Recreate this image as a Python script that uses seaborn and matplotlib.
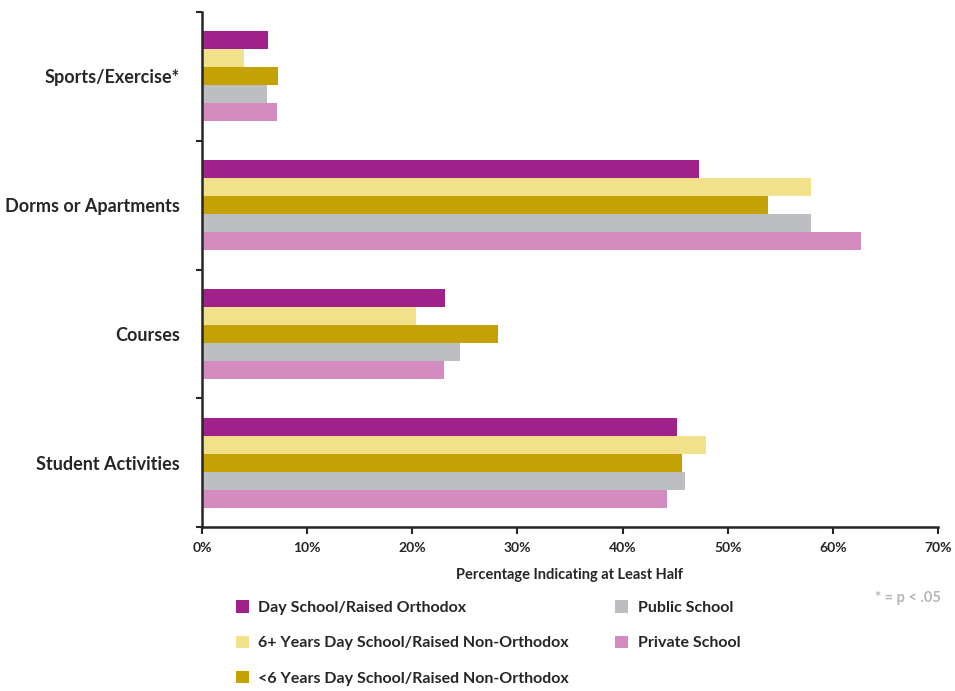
import matplotlib
matplotlib.use('Agg')
import matplotlib.pyplot as plt
from matplotlib.patches import Patch
import seaborn as sns
import pandas as pd

sns.set_style('white')
plt.rcParams['font.family'] = ['Lato', 'DejaVu Sans']

categories = ['Sports/Exercise*', 'Dorms or Apartments', 'Courses', 'Student Activities']
groups = ['Day School/Raised Orthodox',
          '6+ Years Day School/Raised Non-Orthodox',
          '<6 Years Day School/Raised Non-Orthodox',
          'Public School',
          'Private School']
colors = ['#A0218A', '#F0E18A', '#C4A204', '#BDBEC2', '#D48BC0']

day_orthodox = [6.3, 47.3, 23.1, 45.2]
six_plus = [4.0, 57.9, 20.4, 47.9]
under_six = [7.2, 53.8, 28.2, 45.7]
public = [6.2, 57.9, 24.5, 45.9]
private = [7.1, 62.7, 23.0, 44.2]

values = [day_orthodox, six_plus, under_six, public, private]
rows = []
for g, vals in zip(groups, values):
    for c, v in zip(categories, vals):
        rows.append({'category': c, 'group': g, 'value': v})
df = pd.DataFrame(rows)

text_color = '#262626'

fig = plt.figure(figsize=(9.55, 6.91), dpi=100)
ax = fig.add_axes([0.2115, 0.2373, 0.7707, 0.7453])

sns.barplot(data=df, y='category', x='value', hue='group', order=categories,
            hue_order=groups, palette=colors, orient='h', width=0.7,
            saturation=1, linewidth=0, ax=ax, legend=False)

ax.set_xlim(0, 70)
ax.set_ylim(3.5, -0.5)
ax.set_xticks(range(0, 71, 10))
ax.set_xticklabels([f'{t}%' for t in range(0, 71, 10)], fontsize=10,
                   fontweight='bold', color=text_color)
ax.set_yticks(range(len(categories)))
ax.set_yticklabels(categories, fontsize=13, fontweight='bold', color=text_color)
ax.set_yticks([-0.5, 0.5, 1.5, 2.5, 3.5], minor=True)
ax.tick_params(axis='y', which='major', left=False, length=0, pad=16)
ax.tick_params(axis='y', which='minor', left=True, length=4, width=1.5,
               color=text_color, direction='out')
ax.tick_params(axis='x', bottom=True, length=5, width=1.5, color=text_color,
               direction='out', pad=6)
ax.set_xlabel('Percentage Indicating at Least Half', fontsize=10.5,
              fontweight='bold', color=text_color, labelpad=10)
ax.set_ylabel('')

for s in ['top', 'right']:
    ax.spines[s].set_visible(False)
for s in ['left', 'bottom']:
    ax.spines[s].set_color(text_color)
    ax.spines[s].set_linewidth(1.8)

handles = [Patch(facecolor=c, edgecolor='none') for c in colors]
leg = fig.legend(handles, groups, ncol=2, loc='upper left',
                 bbox_to_anchor=(0.232, 0.152), frameon=False,
                 prop={'size': 11.5, 'weight': 'bold'},
                 handlelength=0.8, handleheight=0.8, handletextpad=0.6,
                 labelspacing=1.3, columnspacing=2.9)
for t in leg.get_texts():
    t.set_color(text_color)

fig.text(0.985, 0.135, '* = p < .05', ha='right', va='center',
         fontsize=10.5, fontweight='bold', color='#b5b5b5')

fig.savefig('out.png', dpi=100)
